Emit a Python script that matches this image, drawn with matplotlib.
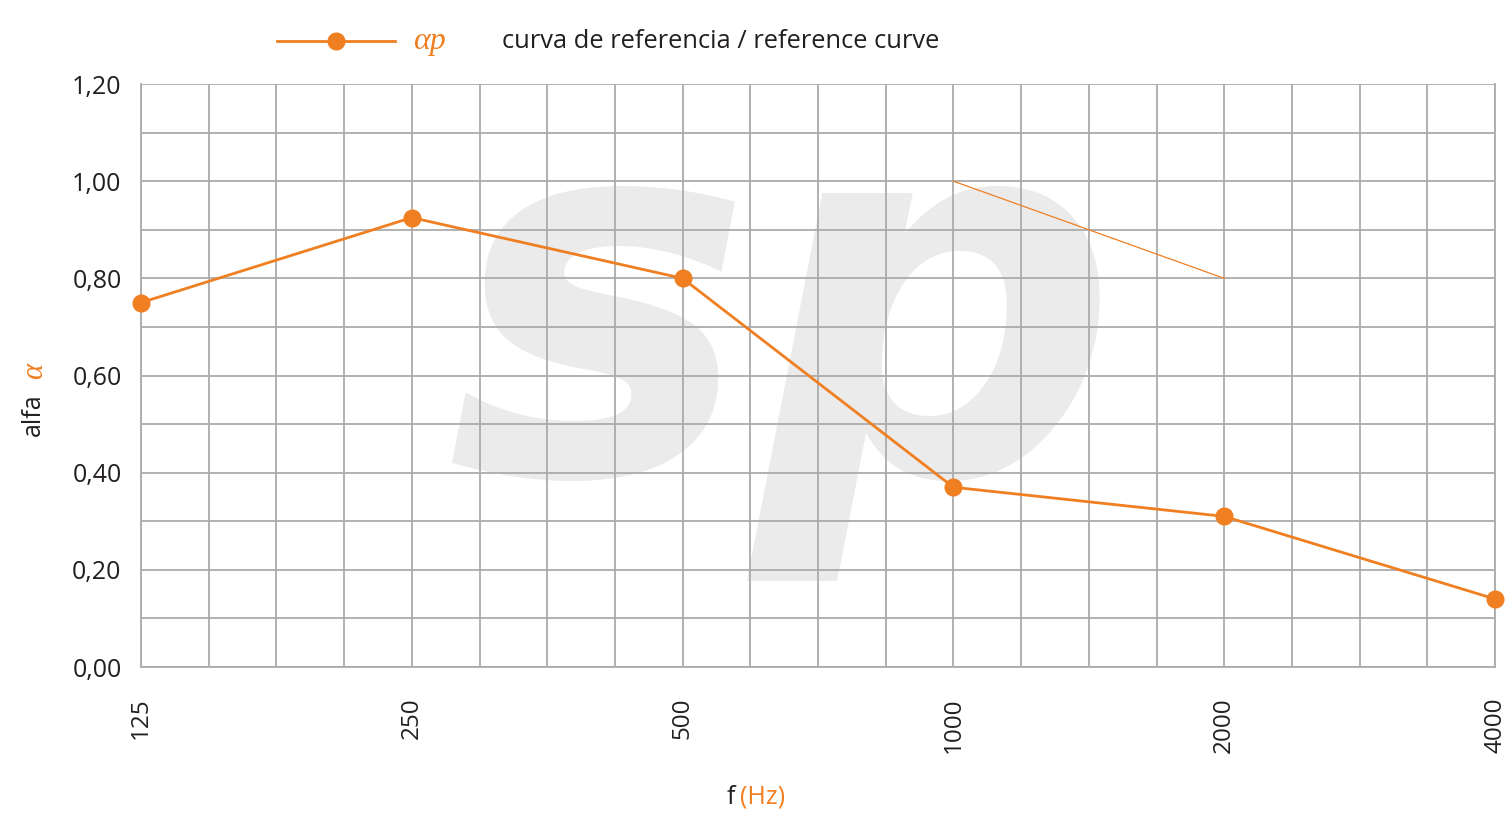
import numpy as np
import matplotlib.pyplot as plt
from matplotlib.ticker import NullFormatter

# absorption data
freqs = [125, 250, 500, 1000, 2000, 4000]
alpha_p = [0.75, 0.925, 0.80, 0.37, 0.31, 0.14]
ref_freqs = [1000, 2000]
ref_alpha = [1.00, 0.80]
yticks = [0.0, 0.2, 0.4, 0.6, 0.8, 1.0, 1.2]

orange = '#f07f22'
grid_grey = '#ababab'
text_col = '#231f20'

plt.rcParams['font.family'] = ['Open Sans', 'DejaVu Sans']

fig = plt.figure(figsize=(15.06, 8.13), dpi=100)
ax = fig.add_axes([141 / 1506, 146 / 813, 1354 / 1506, 583 / 813])

# watermark
ax.text(0.475, 0.575, 'sp', transform=ax.transAxes, fontsize=370, fontweight='bold',
        style='italic', family='DejaVu Sans', color='#ebebeb', ha='center', va='center',
        zorder=0.2)

ax.plot(freqs, alpha_p, color=orange, lw=2, marker='o', ms=12, zorder=3, clip_on=False)
ax.plot(ref_freqs, ref_alpha, color=orange, lw=0.9, zorder=3)

ax.set_xscale('log', base=2)
ax.set_xlim(125, 4000)
ax.set_ylim(0, 1.2)
minor = [125 * 2 ** (k / 4) for k in range(21)]
ax.set_xticks(minor, minor=True)
ax.xaxis.set_minor_formatter(NullFormatter())
ax.set_xticks(freqs)
ax.set_xticklabels([str(f) for f in freqs], rotation=90, fontsize=17.5, color=text_col)
ax.set_yticks(yticks)
ax.set_yticks(np.arange(0, 1.21, 0.1), minor=True)
ax.set_yticklabels([f'{v:.2f}'.replace('.', ',') for v in yticks], fontsize=18, color=text_col)
ax.tick_params(which='both', length=0)
ax.tick_params(axis='x', pad=22)
ax.tick_params(axis='y', pad=14)
ax.set_axisbelow(True)
ax.grid(which='both', color=grid_grey, lw=1.3)
for s in ax.spines.values():
    s.set_color(grid_grey)
    s.set_linewidth(1.3)
ax.spines['top'].set_visible(False)

# legend
fig.lines.append(plt.Line2D([277 / 1506, 395 / 1506], [1 - 41 / 813] * 2, color=orange, lw=2,
                            transform=fig.transFigure))
fig.lines.append(plt.Line2D([336 / 1506], [1 - 41 / 813], color=orange, marker='o', ms=12,
                            transform=fig.transFigure))
fig.text(413 / 1506, 1 - 41 / 813, 'αp', family='Liberation Serif', style='italic',
         fontsize=23, color=orange, va='center')
fig.text(502 / 1506, 1 - 41 / 813, 'curva de referencia / reference curve', fontsize=18.4,
         color=text_col, va='center')

# axis labels
fig.text(33 / 1506, 1 - 415 / 813, 'alfa', rotation=90, fontsize=18, color=text_col,
         ha='center', va='center')
fig.text(35 / 1506, 1 - 371 / 813, 'α', rotation=90, family='Liberation Serif',
         style='italic', fontsize=22, color=orange, ha='center', va='center')
fig.text(735 / 1506, 1 - 797 / 813, 'f', fontsize=18, color=text_col, ha='right', va='center')
fig.text(740 / 1506, 1 - 797 / 813, '(Hz)', fontsize=18, color=orange, ha='left', va='center')

fig.savefig('out.png', dpi=100)
